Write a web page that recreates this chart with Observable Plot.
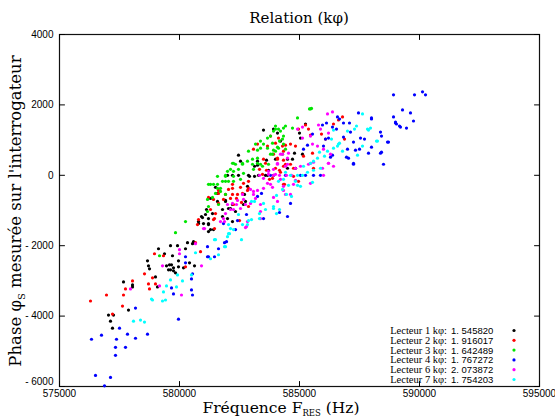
<!DOCTYPE html>
<html><head><meta charset="utf-8">
<script src="https://cdn.jsdelivr.net/npm/d3@7"></script>
<script src="https://cdn.jsdelivr.net/npm/@observablehq/plot@0.6"></script>
<style>body{margin:0;background:#fff}#chart{width:555px;height:418px}</style>
</head><body><div id="chart"></div>
<script>
const titleText = "Relation (kφ)";
const series = ["Lecteur 1","Lecteur 2","Lecteur 3","Lecteur 4","Lecteur 6","Lecteur 7"];
const kphi = ["1. 545820","1. 916017","1. 642489","1. 767272","2. 073872","1. 754203"];
const colors = ["#000000","#ff0000","#00e600","#0000ff","#ff00ff","#00ffff"];
const xTicks = [575000,580000,585000,590000,595000];
const yTicks = [-6000,-4000,-2000,0,2000,4000];

// [frequency Hz, phase]
const l1 = [[577667,-3029],[578042,-3114],[578042,-3171],[577042,-3971],[577250,-3971],[577125,-4143],[577208,-4343],[577875,-3829],[578667,-2429],[578708,-2571],[578750,-2657],[579000,-2886],[579083,-3171],[579125,-2086],[579375,-2229],[579625,-2000],[579917,-2000],[580250,-2086],[580333,-1914],[580542,-1943],[579708,-2286],[579958,-2429],[579458,-2571],[579583,-2543],[579667,-2543],[579542,-2686],[579625,-2686],[579750,-2714],[579833,-2771],[579750,-2629],[579958,-2600],[580167,-2629],[580625,-2571],[581208,-1600],
[581500,-343],[581583,-514],[581292,-657],[581125,-971],[580917,-1171],[580792,-1371],[581208,-1229],[581208,-1371],[581417,-1543],[582042,-943],[582208,-829],[582667,-829],[582750,-743],[582708,-543],[581917,-743],[581792,-1171],[580583,-1886],[580417,-2486],[583250,286],[583708,143],[583583,0],[583125,-29],[582917,-29],[583500,1286],[583250,400],[583625,429],[582458,571],[582542,400],[583125,257],[583292,0],[583667,0],[583917,0],[582875,0],[582000,0],[582208,0],[582458,0],[582833,-314],[581792,-971],[581917,-714],[582125,-943],[581375,-1086],[581083,-1114],[580958,-1200],[580792,-1314],[581000,-1371],[581208,-1400],[581292,-1543],[582000,-1229],[582208,-1314],[582333,-1029],[581583,-743],[585250,1457],[585000,1200],[585042,1057],[583917,1314],[584083,1200],[584208,971],[584500,457],[584792,629],[585125,600],[584708,457],[584000,457],[584833,200],[584500,200]];

const l2 = [[576292,-3571],[576958,-3400],[577208,-3943],[577625,-3714],[577667,-3400],[577750,-3229],[578042,-3000],[578708,-3086],[578750,-3229],[579000,-3086],[578875,-2914],[578542,-2800],[578958,-2229],[579333,-2286],[580250,-2600],[580667,-1914],[580875,-2171],
[582208,-371],[582625,-514],[582208,-543],[582375,-657],[582250,-829],[582583,-771],[581625,-429],[581417,-1257],[580792,-1257],[580750,-1400],[581458,-1514],[582500,-1286],[582875,-371],[583333,171],[583625,143],[583458,29],[583750,-114],[584167,143],[584375,-257],[584333,257],[583583,343],[584750,-29],[584958,-171],[584417,314],[584083,486],[583917,600],[584333,686],[583500,457],[582875,-171],[582667,-229],[582833,-429],[582542,-343],[582417,-543],[582208,-257],[582042,-400],[581917,-543],[582125,-657],[581833,-686],[581625,-800],[581417,-686],[581625,-514],[581208,-629],[581292,-971],[581500,-1086],[581458,-1229],[583083,743],[583250,886],[583667,829],[584000,914],[584125,1057],[584292,829],[583792,1114],[582875,-886],[585250,1429],[584958,1314],[585375,1314],[586417,1457],[586625,1571],[586792,1657],[585458,1143],[585917,1171],[586083,1029],[584625,886],[584833,829],[584417,857],[584083,457],[584333,429],[584625,314],[584000,200],[584208,86],[583875,-86],[584333,-257],[584750,200],[585167,543],[586875,1029],[585542,629],[585583,200]];

const l3 = [[579833,-1629],[579167,-2286],[580250,-1314],[581167,-686],[581375,-629],[581500,-514],[581708,-457],[581917,-543],[581583,-257],[581417,-257],[581208,-257],[581792,-171],[582250,-29],[581917,-29],[582000,114],[582250,114],[582250,343],[582625,343],[583042,314],[583250,343],[583458,257],[583708,314],[581583,-371],[581708,-371],[581292,-257],[581917,-171],[582042,-171],[582250,-171],[582542,-114],[581583,-29],[581917,0],[582125,171],[582458,171],[582333,314],[582625,314],[582208,343],[582833,400],[583042,457],[583250,486],[582875,686],[583250,714],[583375,771],[583500,886],[583167,886],[583375,971],[583792,1114],[583667,1057],[583917,1257],[584125,1314],[584000,1400],[583667,771],[583792,600],[584000,686],[584125,771],[584292,1029],[584417,1400],[583375,314],[583083,171],[582667,57],[581208,-886],[581625,-829],[581167,-1029],[585458,1886],[584917,1629],[584708,1343],[584333,1343],[584208,1257],[584000,1314],[584333,1114],[584167,971],[583875,914],[584083,800],[584417,743],[583917,714],[583875,600],[584292,600],[584333,886],[585417,1886],[585500,1900]];

const l4 = [[576333,-4657],[576750,-4543],[577375,-4657],[577500,-4343],[577833,-4514],[578167,-3771],[578167,-4629],[578667,-4514],[577333,-4886],[577750,-4886],[577333,-5114],[576500,-5686],[577125,-5743],[576875,-5980],[579958,-4086],[579667,-3200],[579750,-3371],[580542,-3400],[580500,-3257],[580500,-2943],[580250,-2486],[581167,-2314],[581458,-2314],[581625,-2086],[581875,-1914],
[587250,314],[584625,-800],[584500,-1171],[583417,-514],[583250,-600],[581958,-1886],[581167,-2029],[580250,-2314],[580542,-2800],[581208,-2314],[582333,-1543],[581833,-1371],[582417,-1286],[582792,-1114],[583500,-1229],[583792,0],[584417,0],[585042,0],[587458,1771],[588000,1600],[586833,1486],[586125,1486],[585958,1429],[586667,1600],[586583,1657],[586375,1371],[587083,1486],[586542,1314],[587125,1229],[587708,1029],[587542,1057],[586833,1086],[586208,1057],[586083,1029],[587250,943],[587000,743],[587333,714],[587500,743],[587875,629],[586958,514],[587042,486],[587250,343],[588375,1229],[588708,943],[588500,314],[588375,629],[585875,0],[585583,0],[585250,0],[585542,1171],[585333,857],[585167,743],[586000,829],[586292,514],[586375,571],[584167,-1057],[589000,1486],[589167,1400],[588917,2286],[589792,2286],[590125,2371],[590250,2286],[589292,1857],[588917,1657],[589625,1771],[589750,1543],[589000,1514],[589042,1457],[589208,1371],[589458,1343],[588000,1629],[588417,1114],[588667,943],[588000,800],[588417,657]];

const l6 = [[580000,-2114],[580000,-2229],[580667,-1943],[579292,-2571],[579167,-3143],[577958,-3229],[580917,-2571],[580083,-3400],
[582000,-829],[581875,-1314],[581042,-1514],[582750,-1486],[583667,-229],[583792,-257],[583875,-343],[583500,-371],[583250,-429],[583083,-543],[583167,-657],[582958,-800],[582750,-829],[582542,-943],[582375,-829],[582125,-971],[583375,-829],[584625,-543],[584417,-543],[584833,-143],[584208,-114],[584000,29],[586000,0],[586417,257],[586208,343],[585458,343],[584500,314],[583917,171],[583708,114],[583500,-86],[584292,600],[584500,486],[584083,314],[583708,29],[583333,0],[582958,-400],[583083,-457],[582625,-543],[582667,-686],[582417,-714],[582208,-800],[582250,-971],[581833,-1229],[581708,-1314],[581917,-1086],[582792,-1457],[582833,-1314],[583375,-1029],[583375,-1229],[581000,-1514],[583917,-629],[584083,-743],[584333,-429],[586375,1800],[585792,1429],[585875,1314],[586208,1200],[585458,1114],[585125,1057],[584917,1314],[585125,1371],[585542,886],[585750,829],[586000,743],[586292,600],[586208,343],[585958,200],[585583,371],[585375,314],[585042,257],[584833,200],[584417,257],[584208,600],[584542,629],[584083,343],[583917,0],[584167,0],[584458,0],[584667,0],[584750,-257],[584333,-314],[585458,-229],[586167,1743]];

const l7 = [[581458,-1829],[582042,-1657],[581875,-2029],[581625,-2257],[581292,-2371],[580667,-2200],[579917,-2829],[580125,-3000],[580500,-2829],[579625,-2971],[579458,-3143],[579875,-3171],[579333,-3314],[578833,-3514],[578875,-3543],[579292,-3571],[579417,-3543],[578083,-4143],[578375,-4114],[578542,-4171],
[583500,-800],[583917,-886],[584167,-971],[584042,-1086],[583000,-743],[583125,-743],[583333,-1086],[583333,-1229],[583583,-971],[582875,-1286],[583000,-1257],[582833,-1400],[582625,-1400],[582458,-1114],[582042,-1400],[582125,-1514],[582250,-1543],[582083,-1657],[582000,-1743],[581500,-1829],[582583,-1829],[581917,-2029],[584458,-543],[584667,-600],[585542,-200],[585042,-314],[584917,-286],[584833,-171],[587625,1743],[587833,1314],[587875,1286],[587292,1314],[587375,1400],[587000,1257],[586417,1286],[586333,1029],[586625,886],[586583,829],[586417,771],[586792,686],[586667,914],[586167,686],[586042,543],[585833,657],[585750,486],[585583,400],[585458,343],[585167,257],[585125,0],[584917,0],[584625,0],[584417,86],[584333,-114],[584125,-171],[584542,-286],[584292,-400],[584042,-571],[583917,-943],[588250,971],[587625,829],[587417,571],[585875,200],[585583,143],[585333,86],[587958,1343],[588208,971]];

const allSeries = [l1,l2,l3,l4,l6,l7];

const tickShape = {draw(ctx, l) { ctx.moveTo(0, 0); ctx.lineTo(0, -l); }};
const tick = (data, ch, anchor, rotate) =>
  Plot.vector(data, {[ch]: d => d, frameAnchor: anchor, rotate, length: 5, anchor: "start", shape: tickShape, stroke: "#000", strokeWidth: 1});
const yFmt = d => d < 0 ? "- " + Math.abs(d) : String(d);

const marks = [
  Plot.frame({stroke: "#111", strokeWidth: 1.2}),
  tick(xTicks, "x", "bottom", 0),
  tick(xTicks, "x", "top", 180),
  tick(yTicks, "y", "left", 90),
  tick(yTicks, "y", "right", -90),
  Plot.axisX(xTicks, {tickSize: 0, tickPadding: 3, tickFormat: d => String(d), label: null, fontSize: 10}),
  Plot.axisY(yTicks.slice(1), {tickSize: 0, tickPadding: 6, tickFormat: yFmt, label: null, fontSize: 10}),
  Plot.axisY(yTicks.slice(0, 1), {tickSize: 0, tickPadding: 6, tickFormat: yFmt, label: null, fontSize: 10, dy: -5})
];
allSeries.forEach((s, i) => {
  marks.push(Plot.dot(s, {x: d => d[0], y: d => d[1], r: 1.6, fill: colors[i], stroke: "none"}));
});

const plot = Plot.plot({
  width: 555, height: 418,
  marginLeft: 59, marginRight: 16, marginTop: 34, marginBottom: 32,
  x: {domain: [575000, 595000]},
  y: {domain: [-6000, 4000]},
  style: {fontFamily: "Liberation Sans, Arial, sans-serif", fontSize: "10px", color: "#000", background: "#fff"},
  marks
});
document.getElementById("chart").appendChild(plot);

const svg = d3.select(plot);
const serif = "DejaVu Serif, serif";
svg.append("text").attr("x", 299).attr("y", 23).attr("text-anchor", "middle")
  .style("font-family", serif).style("font-size", "15px").attr("fill", "#000").text(titleText);

const xl = svg.append("text").attr("x", 281).attr("y", 413).attr("text-anchor", "middle")
  .style("font-family", serif).style("font-size", "15.5px").attr("fill", "#000");
xl.append("tspan").text("Fréquence F");
xl.append("tspan").attr("dy", 2.5).style("font-size", "8.5px").text("RES");
xl.append("tspan").attr("dy", -2.5).text(" (Hz)");

const yl = svg.append("text").attr("transform", "translate(21,211) rotate(-90)").attr("text-anchor", "middle")
  .style("font-family", serif).style("font-size", "16.5px").attr("fill", "#000");
yl.append("tspan").text("Phase φ");
yl.append("tspan").attr("dy", 4).style("font-size", "10px").text("S");
yl.append("tspan").attr("dy", -4).text(" mesurée sur l'interrogateur");

const lg = svg.append("g");
series.forEach((name, i) => {
  const yb = 334 + i * 9.8;
  lg.append("text").attr("x", 447).attr("y", yb).attr("text-anchor", "end")
    .style("font-family", "Liberation Serif, serif").style("font-size", "10.5px").attr("fill", "#000").text(name + " kφ:");
  lg.append("text").attr("x", 451).attr("y", yb).attr("text-anchor", "start")
    .style("font-family", "Liberation Sans, sans-serif").style("font-size", "9.5px").attr("fill", "#000").text(kphi[i]);
  lg.append("circle").attr("cx", 514).attr("cy", yb - 3.5).attr("r", 1.6).attr("fill", colors[i]);
});
</script>
</body></html>
